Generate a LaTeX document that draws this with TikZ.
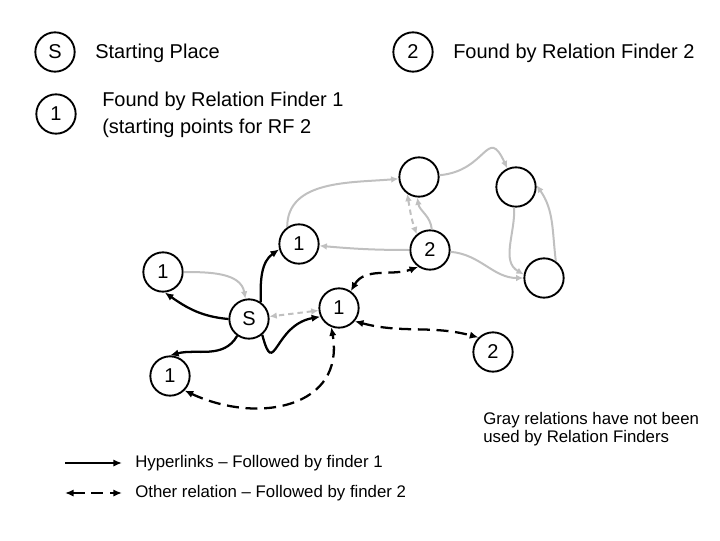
\documentclass[tikz,border=0pt]{standalone}
\usepackage{fontspec}
\setmainfont{Liberation Sans}
\usetikzlibrary{arrows.meta}
\definecolor{relgray}{RGB}{192,192,192}

\begin{document}
\begin{tikzpicture}[x=0.75pt, y=0.75pt,
	place/.style={circle, draw, line width=1.4pt, minimum size=29.5pt, inner sep=0pt, font=\fontsize{15}{18}\selectfont},
	hyper/.style={line width=1.7pt, -{Latex[length=6.5pt,width=5.5pt]}},
	other/.style={line width=1.7pt, dash pattern=on 9pt off 5pt, {Latex[length=6.5pt,width=5.5pt]}-{Latex[length=6.5pt,width=5.5pt]}},
	unused/.style={line width=1.5pt, relgray, -{Latex[length=5.5pt,width=5pt]}},
	unusedother/.style={unused, dash pattern=on 4pt off 3pt, {Latex[length=5.5pt,width=5pt]}-{Latex[length=5.5pt,width=5pt]}},
	legend/.style={anchor=west, inner sep=0pt, align=left, font=\fontsize{15}{20.25}\selectfont},
	note/.style={anchor=west, inner sep=0pt, align=left, font=\fontsize{12.6}{13.5}\selectfont}]
	\useasboundingbox (0,0) rectangle (720,540);

	% legend
	\node[place] (ls) at (55,488) {S};
	\node[legend] (lsText) at (95,487) {Starting Place};
	\node[place] (l2) at (413,488) {2};
	\node[legend] (l2Text) at (453,487) {Found by Relation Finder 2};
	\node[place] (l1) at (56,426) {1};
	\node[legend] (l1Text) at (102,425) {Found by Relation Finder 1\\(starting points for RF 2};

	% places
	\node[place] (s) at (249,221) {S};
	\node[place] (r1a) at (163,268) {1};
	\node[place] (r1b) at (299,296) {1};
	\node[place] (r1c) at (339,232) {1};
	\node[place] (r1d) at (170,164) {1};
	\node[place] (r2a) at (430,290) {2};
	\node[place] (r2b) at (493,188) {2};
	\node[place] (ua) at (419,363) {};
	\node[place] (ub) at (516,353) {};
	\node[place] (uc) at (544,262) {};

	% gray relations
	\path[unused] (r1a) edge[out=0, in=100] (s);
	\path[unusedother] (r1c) edge (s);
	\path[unused] (r1b.125) edge[out=90, in=185] (ua);
	\path[unused] (r2a) edge[out=180, in=-5] (r1b);
	\path[unusedother] (ua.235) edge[out=-80, in=110] (r2a.130);
	\path[unused] (r2a.85) edge[out=95, in=-80] (ua.265);
	\path[unused] (ua) edge[out=5, in=115, looseness=1.8] (ub);
	\path[unused] (ub.265) edge[out=-88, in=150] (uc.170);
	\path[unused] (uc.55) edge[out=97, in=-55] (ub.5);
	\path[unused] (r2a) edge[out=-5, in=180] (uc);

	% hyperlinks
	\path[hyper] (s.180) edge[out=175, in=-35] (r1a.-85);
	\path[hyper] (s.55) edge[out=92, in=215] (r1b.195);
	\path[hyper] (s.235) edge[out=240, in=15] (r1d.90);
	\path[hyper] (s.-50) edge[out=-75, in=190, looseness=2] (r1c.205);

	% other relations
	\path[other] (r1c.55) edge[out=60, in=200] (r2a.235);
	\path[other] (r1c.-40) edge[out=-15, in=165] (r2b.135);
	\path[other] (r1d.-45) edge[out=-25, in=-80, looseness=1.3] (r1c.-112);

	% key
	\coordinate (hypA) at (65,77);
	\coordinate (hypB) at (122,77);
	\coordinate (othA) at (65,47);
	\coordinate (othB) at (122,47);
	\draw[hyper] (hypA) -- (hypB);
	\draw[other] (othA) -- (othB);
	\node[note] (hypText) at (135,77) {Hyperlinks -- Followed by finder 1};
	\node[note] (othText) at (135,47) {Other relation -- Followed by finder 2};
	\node[note] (grayText) at (483,111) {Gray relations have not been\\used by Relation Finders};
\end{tikzpicture}
\end{document}
